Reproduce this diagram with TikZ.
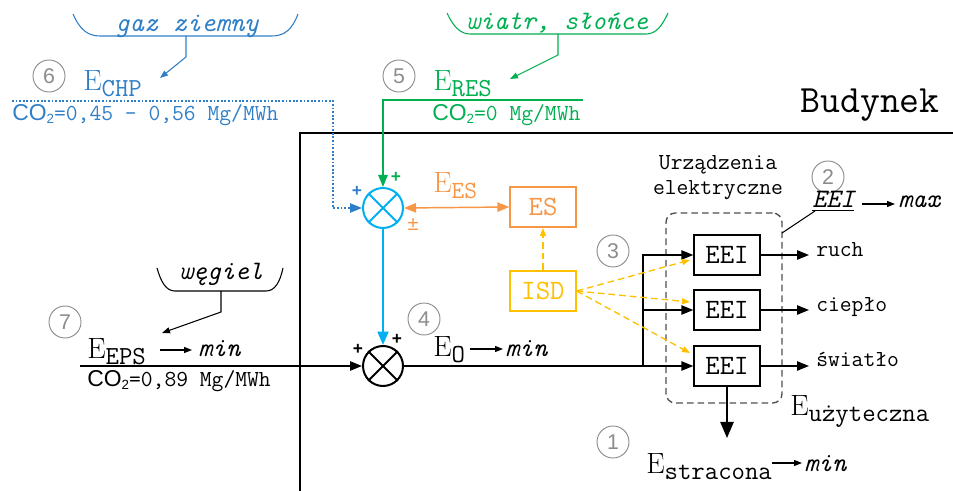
\documentclass[tikz,border=0pt]{standalone}
\usepackage{fontspec}
\setsansfont{Liberation Sans}
\usetikzlibrary{arrows.meta}
\definecolor{chpblue}{HTML}{2F7FC8}
\definecolor{resgreen}{HTML}{00B050}
\definecolor{cyanb}{HTML}{00B0F0}
\definecolor{esorange}{HTML}{F79646}
\definecolor{isdyellow}{HTML}{FFC000}
\definecolor{numgray}{HTML}{8C8C8C}
\definecolor{dgray}{HTML}{505050}
\newcommand{\fs}[1]{\fontsize{#1}{#1}\selectfont}
\newcommand{\Esub}[1]{{\fs{22}\rmfamily E}\raisebox{-4.5pt}{\fs{19.5}\ttfamily #1}}
\newcommand{\cotwo}{{\sffamily CO\raisebox{-2pt}{\fs{10}2}}}
\begin{document}
\begin{tikzpicture}[x={(0.75pt,0)}, y={(0,-0.75pt)},
  txt/.style={inner sep=0pt, anchor=base west, font=\ttfamily\fs{17.2}},
  itx/.style={inner sep=0pt, anchor=base west, font=\ttfamily\itshape\fs{20}},
  num/.style={circle, draw=numgray, line width=0.7pt, minimum size=24pt, inner sep=0pt, text=numgray, font=\sffamily\fs{16}},
  eei/.style={draw, line width=1.5pt, minimum width=49pt, minimum height=30pt, inner sep=0pt, font=\ttfamily\fs{21}},
  mix/.style={circle, draw, line width=1.5pt, minimum size=30pt, inner sep=0pt},
  pm/.style={inner sep=0pt, font=\sffamily\bfseries\fs{13}},
  arr/.style={-{Triangle[length=9pt,width=7pt]}},
  sarr/.style={-{Triangle[length=6pt,width=4.5pt]}},
  lw/.style={line width=1.1pt}]
\useasboundingbox (0,0) rectangle (953,491);

% building
\draw[line width=2.2pt] (300,491) -- (300,133) -- (953,133);
\node[inner sep=0pt, anchor=base east, font=\ttfamily\fs{29}] (bud) at (940,113) {Budynek};

% gaz ziemny
\draw[chpblue, line width=0.8pt] (73,14) .. controls (80,30) and (88,36) .. (100,36) -- (272,36) .. controls (284,36) and (292,30) .. (298,14);
\node[inner sep=0pt, anchor=base, font=\ttfamily\itshape\fs{20.5}, text=chpblue] (gaz) at (187,32) {gaz ziemny};
\coordinate (gzs) at (186,36); \coordinate (gzk) at (186,57); \coordinate (gze) at (160,78);
\draw[chpblue, line width=0.8pt, sarr] (gzs) -- (gzk) -- (gze);
\node[num] (n6) at (49,76) {6};
\node[inner sep=0pt, anchor=base west, text=chpblue] (echp) at (83,91) {\Esub{CHP}};
\node[txt, text=chpblue] (co2chp) at (12,121) {\cotwo=0,45 - 0,56 Mg/MWh};

% wiatr, slonce
\draw[resgreen, line width=0.8pt] (447,13) .. controls (453,26) and (460,34) .. (470,34) -- (646,34) .. controls (656,34) and (662,26) .. (668,13);
\node[inner sep=0pt, anchor=base, font=\ttfamily\itshape\fs{20}, text=resgreen] (wia) at (557,30) {wiatr, słońce};
\coordinate (wis) at (558,34); \coordinate (wik) at (558,55); \coordinate (wie) at (510,79);
\draw[resgreen, line width=0.8pt, sarr] (wis) -- (wik) -- (wie);
\node[num] (n5) at (399,76) {5};
\node[inner sep=0pt, anchor=base west, text=resgreen] (eres) at (433,91) {\Esub{RES}};
\node[txt, text=resgreen] (co2res) at (432,121) {\cotwo=0 Mg/MWh};

% wegiel
\draw[line width=0.8pt] (157,268) .. controls (161,282) and (166,291) .. (175,291) -- (266,291) .. controls (275,291) and (280,282) .. (283,268);
\node[inner sep=0pt, anchor=base, font=\ttfamily\itshape\fs{20}] (weg) at (221,280) {węgiel};
\coordinate (wgs) at (221,291); \coordinate (wgk) at (221,312); \coordinate (wge) at (162,333);
\draw[line width=0.8pt, sarr] (wgs) -- (wgk) -- (wge);
\node[num] (n7) at (65,322) {7};
\node[inner sep=0pt, anchor=base west] (eeps) at (87,359) {\Esub{EPS}};
\coordinate (ea1) at (160,350); \coordinate (ea2) at (192,350);
\draw[line width=0.9pt, sarr] (ea1) -- (ea2);
\node[itx] (min1) at (198,357) {min};
\node[txt] (co2eps) at (87,387) {\cotwo=0,89 Mg/MWh};

% mixers
\node[mix, draw=cyanb] (m1) at (383,208) {};
\draw[cyanb, line width=1.5pt] (m1.north east) -- (m1.south west) (m1.north west) -- (m1.south east);
\node[mix] (m2) at (383,366) {};
\draw[line width=1.5pt] (m2.north east) -- (m2.south west) (m2.north west) -- (m2.south east);

\node[pm, text=resgreen] (pg) at (396,177) {+};
\node[pm, text=chpblue] (pb) at (357,191) {+};
\node[inner sep=0pt, font=\sffamily\fs{15}, text=esorange] (po) at (413,225) {±};
\node[pm] (pk1) at (358,349) {+};
\node[pm] (pk2) at (397,339) {+};

% inputs to m1
\coordinate (chp0) at (12,101); \coordinate (chp1) at (333,101); \coordinate (chp2) at (333,208);
\draw[chpblue, line width=1pt, dash pattern=on 1.3pt off 1.4pt, -{Triangle[length=9pt,width=7pt]}] (chp0) -- (chp1) -- (chp2) -- (m1.west);
\coordinate (res0) at (583,100); \coordinate (res1) at (383,100);
\draw[resgreen, lw, arr] (res0) -- (res1) -- (m1.north);

% ES
\node[eei, draw=esorange, text=esorange] (es) at (543,207) {ES};
\draw[esorange, lw, {Triangle[length=9pt,width=7pt]}-{Triangle[length=9pt,width=7pt]}] (m1.east) -- (es.west);
\node[inner sep=0pt, anchor=base west, text=esorange] (ees) at (433,193) {{\fs{22}\rmfamily E}\raisebox{-4.5pt}{\fs{18.5}\ttfamily ES}};

% ISD
\node[eei, draw=isdyellow, text=isdyellow] (isd) at (543,291) {ISD};
\draw[isdyellow, line width=1pt, dash pattern=on 5pt off 3pt, -{Triangle[length=6pt,width=4.5pt]}] (isd.north) -- (es.south);

% cyan and main line
\draw[cyanb, line width=2pt, -{Triangle[length=10pt,width=8pt]}] (m1.south) -- (m2.north);
\coordinate (in0) at (80,366);
\draw[lw, arr] (in0) -- (m2.west);
\node[num] (n4) at (424,319) {4};
\node[inner sep=0pt, anchor=base west] (eo) at (433,357) {\Esub{O}};
\coordinate (oa1) at (470,349); \coordinate (oa2) at (503,349);
\draw[line width=0.9pt, sarr] (oa1) -- (oa2);
\node[itx] (min2) at (505,357) {min};

% devices
\node[draw=dgray, line width=1pt, dash pattern=on 5pt off 3pt, rounded corners=7pt, minimum width=87pt, minimum height=142.5pt, inner sep=0pt] (grp) at (724,308) {};
\node[eei] (e1) at (727,255) {EEI};
\node[eei] (e2) at (727,310) {EEI};
\node[eei] (e3) at (727,366) {EEI};
\coordinate (br1) at (643,255); \coordinate (br2) at (643,310); \coordinate (br3) at (643,366);
\draw[lw] (m2.east) -- (br3);
\draw[lw, arr] (br3) -- (e3.west);
\draw[lw, arr] (br3) -- (br1) -- (e1.west);
\draw[lw, arr] (br2) -- (e2.west);
\coordinate (o1) at (809,255); \coordinate (o2) at (809,310); \coordinate (o3) at (809,366);
\draw[lw, arr] (e1.east) -- (o1);
\draw[lw, arr] (e2.east) -- (o2);
\draw[lw, arr] (e3.east) -- (o3);
\node[txt] (ruch) at (816,257) {ruch};
\node[txt] (ciep) at (816,312) {ciepło};
\node[txt] (swia) at (816,367) {światło};

\coordinate (ya1) at (690,260); \coordinate (ya2) at (690,302); \coordinate (ya3) at (690,353);
\foreach \t in {ya1,ya2,ya3}
  \draw[isdyellow, line width=1pt, dash pattern=on 5pt off 3pt, -{Triangle[length=6pt,width=4.5pt]}] (isd.east) -- (\t);
\node[num] (n3) at (613,251) {3};

\node[inner sep=0pt, anchor=base, font=\ttfamily\fs{17.2}] (urz1) at (718,170) {Urządzenia};
\node[inner sep=0pt, anchor=base, font=\ttfamily\fs{17.2}] (urz2) at (718,195) {elektryczne};
\node[num] (n2) at (828,177) {2};
\node[itx] (eeil) at (812,208) {\underline{EEI}};
\coordinate (ma1) at (862,204); \coordinate (ma2) at (895,204);
\draw[line width=0.9pt, sarr] (ma1) -- (ma2);
\node[itx] (max) at (898,208) {max};
\coordinate (pl1) at (815,211); \coordinate (pl2) at (782,233);
\draw[line width=0.8pt] (pl1) -- (pl2);

\node[inner sep=0pt, anchor=base west] (euz) at (790,416) {\Esub{użyteczna}};
\coordinate (dn) at (727,438);
\draw[lw, -{Triangle[length=12pt,width=10pt]}] (e3.south) -- (dn);
\node[num] (n1) at (613,442) {1};
\node[inner sep=0pt, anchor=base west] (estr) at (646,473) {\Esub{stracona}};
\coordinate (sa1) at (772,463); \coordinate (sa2) at (802,463);
\draw[line width=0.9pt, sarr] (sa1) -- (sa2);
\node[itx] (min3) at (804,471) {min};
\end{tikzpicture}
\end{document}
